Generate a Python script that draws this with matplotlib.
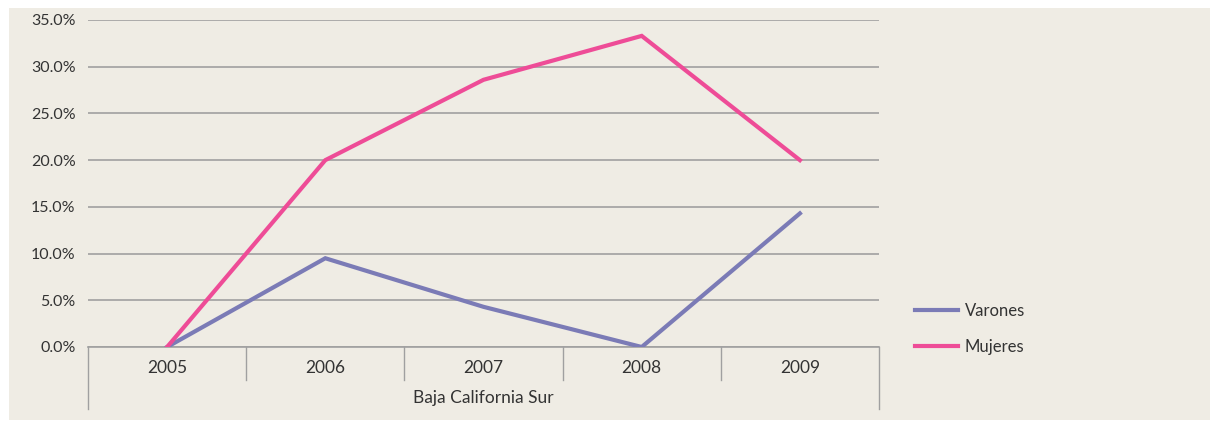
import matplotlib.pyplot as plt
import matplotlib.ticker as mticker
from matplotlib.patches import Rectangle
import matplotlib.transforms as mtrans

plt.rcParams['font.family'] = ['Lato', 'DejaVu Sans']

# datos
years = ['2005', '2006', '2007', '2008', '2009']
varones = [0.0, 0.095, 0.043, 0.0, 0.143]
mujeres = [0.0, 0.20, 0.286, 0.333, 0.20]
group_label = 'Baja California Sur'

W, H = 1210, 421
fig = plt.figure(figsize=(W / 100, H / 100), dpi=100)
fig.patch.set_facecolor('white')
# fondo beige
fig.patches.append(Rectangle((9 / W, 1 / H), 1 - 9 / W, 1 - 9 / H,
                             transform=fig.transFigure, facecolor='#efece4',
                             edgecolor='none', zorder=-10))

ax = fig.add_axes([88 / W, 1 - 347 / H, (879 - 88) / W, (347 - 20) / H])
ax.set_facecolor('none')

x = list(range(len(years)))
ax.plot(x, varones, color='#7b7bb6', lw=3, label='Varones', solid_joinstyle='miter', zorder=3)
ax.plot(x, mujeres, color='#ee4c97', lw=3, label='Mujeres', solid_joinstyle='miter', zorder=3)

ax.set_xlim(-0.5, len(years) - 0.5)
ax.set_ylim(0, 0.35)
ax.yaxis.set_major_locator(mticker.MultipleLocator(0.05))
ax.yaxis.set_major_formatter(mticker.PercentFormatter(1.0, decimals=1))
ax.yaxis.grid(True, color='#a0a0a0', lw=1.2)
ax.set_axisbelow(True)
for s in ['left', 'right', 'top']:
    ax.spines[s].set_visible(False)
ax.spines['bottom'].set_color('#a0a0a0')
ax.spines['bottom'].set_linewidth(1.2)
ax.tick_params(axis='y', length=0, pad=9, labelsize=11.5, labelcolor='#333333')
ax.set_xticks([])

# eje de categorias en dos niveles
tr = mtrans.blended_transform_factory(ax.transData, ax.transAxes)
axh = (347 - 20)
for i in range(len(years) + 1):
    b = i - 0.5
    low = -62 / axh if i in (0, len(years)) else -33 / axh
    ax.plot([b, b], [0, low], transform=tr, color='#a0a0a0', lw=1, clip_on=False)
for i, y in enumerate(years):
    ax.text(i, -21 / axh, y, transform=tr, ha='center', va='center',
            fontsize=12.5, color='#333333')
ax.text((len(years) - 1) / 2, -51 / axh, group_label, transform=tr,
        ha='center', va='center', fontsize=12.5, color='#333333')

ax.legend(loc='center left', bbox_to_anchor=(900 / W, 1 - 329 / H),
          bbox_transform=fig.transFigure, frameon=False, fontsize=12,
          handlelength=2.6, labelspacing=1.2, handletextpad=0.4,
          labelcolor='#333333')

plt.savefig('out.png', dpi=100)
